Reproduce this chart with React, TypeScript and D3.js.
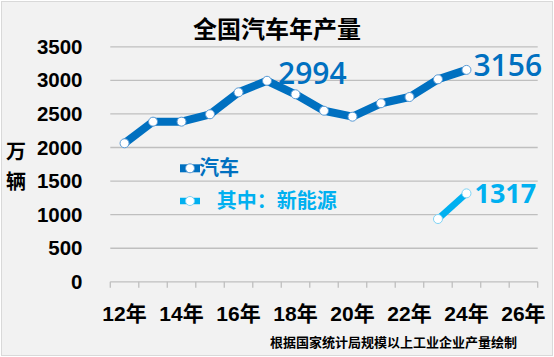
import React from "react";
import * as d3 from "d3";

const years = ["12", "13", "14", "15", "16", "17", "18", "19", "20", "21", "22", "23", "24", "25", "26"];
const tickLabels = ["12年", "14年", "16年", "18年", "20年", "22年", "24年", "26年"];
const carYears = ["12", "13", "14", "15", "16", "17", "18", "19", "20", "21", "22", "23", "24"];
const carValues = [2063, 2385, 2385, 2495, 2822, 2994, 2793, 2548, 2459, 2659, 2752, 3016, 3156];
const nevYears = ["23", "24"];
const nevValues = [935, 1317];
const yTicks = [0, 500, 1000, 1500, 2000, 2500, 3000, 3500];
const labels = [
  { year: "17", value: 2994, text: "2994", series: "car" },
  { year: "24", value: 3156, text: "3156", series: "car" },
  { year: "24", value: 1317, text: "1317", series: "nev" },
];

const W = 554, H = 357;
const BLUE = "#0070C0";
const LBLUE = "#00B0F0";
const NUM = "'Liberation Sans', Arial, 'Noto Sans CJK SC', sans-serif";
const LBL = "'Open Sans', 'Liberation Sans', sans-serif";
const CJK = "'Liberation Sans', 'Noto Sans CJK SC', sans-serif";

export default function App() {
  const x = d3.scaleBand<string>().domain(years).range([110.3, 537.7]);
  const y = d3.scaleLinear().domain([0, 3500]).range([281.8, 46.8]);
  const cx = (k: string) => (x(k) as number) + x.bandwidth() / 2;
  const line = d3.line<[string, number]>().x((d) => cx(d[0])).y((d) => y(d[1]));
  const car = carYears.map((k, i) => [k, carValues[i]] as [string, number]);
  const nev = nevYears.map((k, i) => [k, nevValues[i]] as [string, number]);
  const tickPos = [...years.map((k) => x(k) as number), 537.7];

  return (
    <svg width={W} height={H} style={{ position: "absolute", left: 0, top: 0 }}>
      <rect x={1.5} y={1.5} width={W - 3} height={H - 3} fill="#F2F2F2" stroke="#D9D9D9" />
      <text x={277} y={38} textAnchor="middle" fontFamily={CJK} fontWeight="bold" fontSize={24} fill="#000">全国汽车年产量</text>
      {yTicks.filter((t) => t > 0).map((t) => (
        <line key={t} x1={110.3} x2={537.7} y1={y(t)} y2={y(t)} stroke="#BFBFBF" strokeWidth={1.3} />
      ))}
      <line x1={110.3} x2={537.7} y1={y(0)} y2={y(0)} stroke="#BFBFBF" strokeWidth={1.3} />
      {tickPos.map((p, i) => (
        <line key={i} x1={p} x2={p} y1={y(0)} y2={y(0) + 6} stroke="#BFBFBF" strokeWidth={1.3} />
      ))}
      {yTicks.map((t) => (
        <text key={t} x={82.5} y={y(t) + 7} textAnchor="end" fontFamily={NUM} fontWeight="bold" fontSize={20.5} fill="#000">{t}</text>
      ))}
      <text x={16} y={159} textAnchor="middle" fontFamily={CJK} fontWeight="bold" fontSize={20} fill="#000">万</text>
      <text x={16} y={189} textAnchor="middle" fontFamily={CJK} fontWeight="bold" fontSize={20} fill="#000">辆</text>
      {tickLabels.map((t, i) => (
        <text key={t} x={cx(years[i * 2])} y={321} textAnchor="middle" fontFamily={CJK} fontWeight="bold" fontSize={21} fill="#000">{t}</text>
      ))}
      <text x={270} y={346.5} fontFamily={CJK} fontWeight="bold" fontSize={13} fill="#000">根据国家统计局规模以上工业企业产量绘制</text>

      <path d={line(car) || ""} fill="none" stroke={BLUE} strokeWidth={8} strokeLinejoin="round" />
      {car.map((d) => (
        <circle key={d[0]} cx={cx(d[0])} cy={y(d[1])} r={4.5} fill="#fff" stroke="#5B9BD5" strokeWidth={1} />
      ))}
      <path d={line(nev) || ""} fill="none" stroke={LBLUE} strokeWidth={6.5} strokeLinejoin="round" />
      {nev.map((d) => (
        <circle key={d[0]} cx={cx(d[0])} cy={y(d[1])} r={4.5} fill="#fff" stroke="#7FD3F5" strokeWidth={1} />
      ))}

      {labels.map((l) => {
        const isCar = l.series === "car";
        const dx = l.year === "17" ? 11 : isCar ? 7 : 8;
        const dy = l.year === "17" ? 3.5 : isCar ? 6.5 : 10;
        return (
          <text key={l.text} x={cx(l.year) + dx} y={y(l.value) + dy} fontFamily={LBL}
            fontWeight={isCar ? 600 : "bold"} fontSize={isCar ? 30 : 27} fill={isCar ? BLUE : LBLUE}>{l.text}</text>
        );
      })}

      <line x1={180} x2={200} y1={168.3} y2={168.3} stroke={BLUE} strokeWidth={8} />
      <circle cx={190} cy={168.3} r={4.5} fill="#fff" stroke="#5B9BD5" strokeWidth={1} />
      <text x={199} y={175.3} fontFamily={CJK} fontWeight="bold" fontSize={20} fill={BLUE}>汽车</text>
      <line x1={180} x2={200} y1={201} y2={201} stroke={LBLUE} strokeWidth={6.5} />
      <circle cx={190} cy={201} r={4.5} fill="#fff" stroke="#7FD3F5" strokeWidth={1} />
      <text x={216.7} y={208} fontFamily={CJK} fontWeight="bold" fontSize={20} fill={LBLUE}>其中：新能源</text>
    </svg>
  );
}
